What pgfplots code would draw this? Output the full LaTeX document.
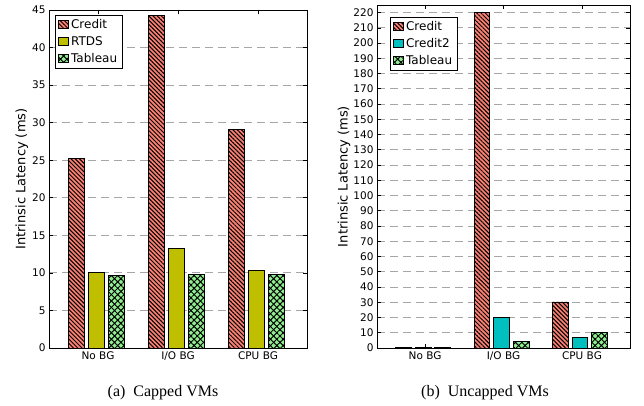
\documentclass[border=0pt]{standalone}
\usepackage{fontspec}
\setmainfont{DejaVu Sans}
\newfontfamily\capfont{Liberation Serif}
\usepackage{pgfplots}
\pgfplotsset{compat=1.18}
\usetikzlibrary{patterns.meta}

\definecolor{creditred}{RGB}{250,128,114}
\definecolor{rtdsyellow}{RGB}{191,191,0}
\definecolor{credittwo}{RGB}{0,191,191}
\definecolor{tabgreen}{RGB}{144,238,144}

\pgfplotsset{
  latency chart/.style={
    scale only axis,
    /pgf/number format/assume math mode=true,
    xmin=-0.6125, xmax=2.6125,
    ymin=0,
    xtick={0,1,2},
    xticklabels={No BG, I/O BG, CPU BG},
    xtick pos=both, ytick pos=both,
    tick align=inside,
    major tick length=4pt,
    tick style={black, line width=0.7pt},
    axis line style={black, line width=0.8pt},
    ymajorgrids,
    major grid style={gray!70, line width=0.8pt, dash pattern=on 8pt off 5pt},
    tick label style={font=\fontsize{10.5}{12}\selectfont},
    ylabel={Intrinsic Latency (ms)},
    ylabel style={font=\fontsize{13}{15}\selectfont, anchor=center},
    legend cell align=left,
    legend style={font=\fontsize{12}{14}\selectfont, at={(0,1)}, anchor=north west,
      xshift=6pt, yshift=-5pt, draw=black, line width=0.6pt,
      inner xsep=3pt, inner ysep=2pt, row sep=2.5pt},
    legend image code/.code={\draw[##1] (0pt,-4pt) rectangle (10pt,4pt);},
  },
  creditbar/.style={ybar, bar width=0.2, bar shift=-0.275, draw=black, line width=0.8pt,
    fill=creditred,
    postaction={pattern={Lines[angle=-45, distance=3pt, line width=1pt]}, pattern color=black}},
  midbar/.style={ybar, bar width=0.2, bar shift=-0.025, draw=black, line width=0.8pt, fill=#1},
  tabbar/.style={ybar, bar width=0.2, bar shift=0.225, draw=black, line width=0.8pt,
    fill=tabgreen,
    postaction={pattern={Lines[angle=45, distance=4.5pt, line width=1pt]}, pattern color=black},
    postaction={pattern={Lines[angle=-45, distance=4.5pt, line width=1pt]}, pattern color=black}},
}

\begin{document}
\begin{tikzpicture}
\useasboundingbox (0,0) rectangle (644pt,406pt);

% (a) capped VMs
\begin{axis}[latency chart,
  at={(49pt,58pt)}, anchor=south west,
  width=258pt, height=338pt,
  ymax=45, ytick={0,5,...,45},
  ylabel style={at={(axis description cs:-0.105,0.5)}},
]
\addplot[creditbar] coordinates {(0,25.2) (1,44.3) (2,29.1)};
\addlegendentry{Credit}
\addplot[midbar=rtdsyellow] coordinates {(0,10.1) (1,13.2) (2,10.3)};
\addlegendentry{RTDS}
\addplot[tabbar] coordinates {(0,9.7) (1,9.8) (2,9.8)};
\addlegendentry{Tableau}
\end{axis}

% (b) uncapped VMs
\begin{axis}[latency chart,
  at={(377pt,58pt)}, anchor=south west,
  width=253pt, height=343pt,
  ymax=225, ytick={0,10,...,220},
  ylabel style={at={(axis description cs:-0.13,0.5)}},
  legend style={xshift=7pt, yshift=-7pt},
]
\addplot[creditbar] coordinates {(0,0.4) (1,220) (2,30.2)};
\addlegendentry{Credit}
\addplot[midbar=credittwo] coordinates {(0,0.4) (1,20.3) (2,7.0)};
\addlegendentry{Credit2}
\addplot[tabbar] coordinates {(0,0.6) (1,4.5) (2,10.0)};
\addlegendentry{Tableau}
\end{axis}

\node[font=\capfont\fontsize{16}{18}\selectfont] at (163pt,13pt) {(a)\hspace{0.5em}Capped VMs};
\node[font=\capfont\fontsize{16}{18}\selectfont] at (485pt,13pt) {(b)\hspace{0.5em}Uncapped VMs};
\end{tikzpicture}
\end{document}
